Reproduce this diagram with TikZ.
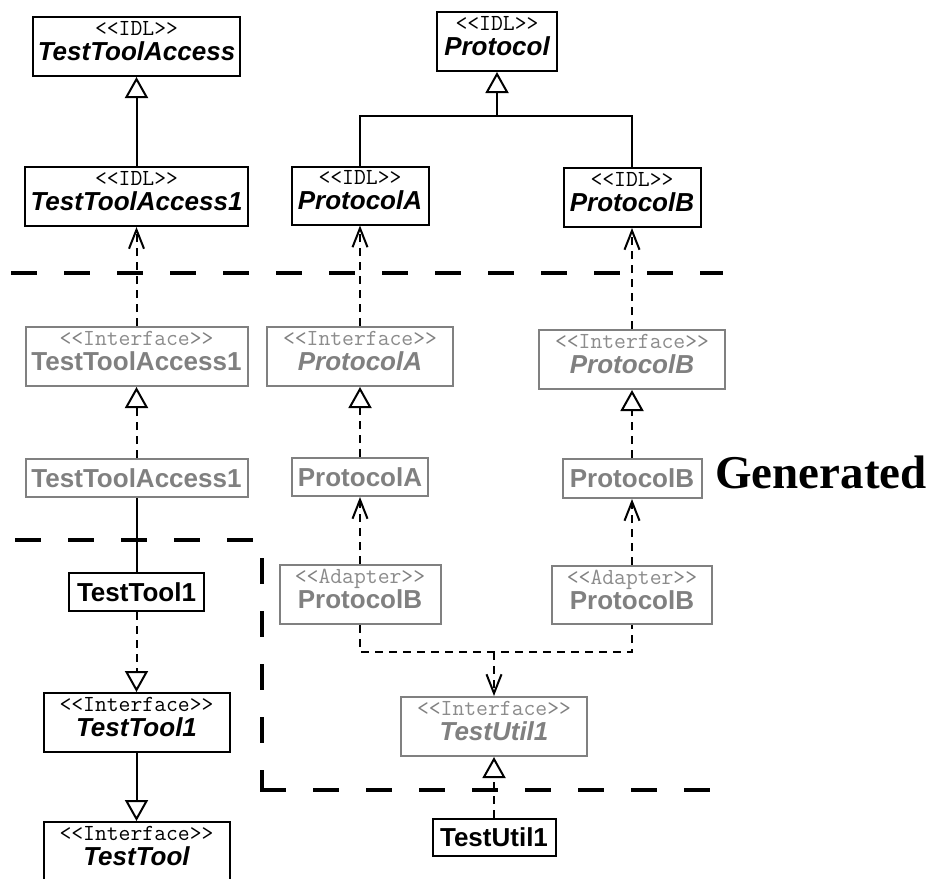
\documentclass[tikz,border=0pt]{standalone}
\usepackage{fontspec}
\setmainfont{Liberation Serif}
\setsansfont{Liberation Sans}
\usetikzlibrary{arrows.meta}

\definecolor{gengray}{RGB}{128,128,128}
\definecolor{stgray}{RGB}{140,140,140}

% stereotype line (Latin Modern Mono) and class names
\newcommand{\stereo}[1]{{\fontsize{23}{25}\selectfont\ttfamily <\kern0pt<#1>\kern0pt>}}
\newcommand{\nm}[1]{{\sffamily\bfseries #1}}
\newcommand{\inm}[1]{{\sffamily\bfseries\itshape #1}}
\newcommand{\two}[2]{\stereo{#1}\\#2\rule[-11pt]{0pt}{11pt}}

\tikzset{
  box/.style={draw, line width=2pt, fill=white, inner sep=1pt, align=center,
    font=\fontsize{26}{25}\selectfont},
  blackbox/.style={box, draw=black, text=black},
  graybox/.style={box, draw=gengray, text=gengray},
  conn/.style={line width=2pt, draw=black},
  dconn/.style={conn, dash pattern=on 8pt off 6pt},
  tri/.style={-{Triangle[open, length=21pt, width=23pt, fill=white]}},
  vee/.style={-{Straight Barb[length=19pt, width=15pt]}},
  zone/.style={line width=4pt, dash pattern=on 26pt off 27pt, line join=miter},
}

\begin{document}
\begin{tikzpicture}[x=1pt, y=-1pt]
\useasboundingbox (0,0) rectangle (928,878);

% boundaries of the generated region
\draw[zone] (11,273) -- (723,273);
\draw[zone] (15,540) -- (262,540) -- (262,790);
\draw[zone] (260,790) -- (710,790);

% IDL level
\node[blackbox, minimum width=207pt, minimum height=59pt] (tta) at (136.5,46.5) {\two{IDL}{\inm{TestToolAccess}}};
\node[blackbox, minimum width=223pt, minimum height=59pt] (tta1) at (136.5,196.5) {\two{IDL}{\inm{TestToolAccess1}}};
\node[blackbox, minimum width=120pt, minimum height=59pt] (proto) at (497,41.5) {\two{IDL}{\inm{Protocol}}};
\node[blackbox, minimum width=137pt, minimum height=58pt] (pa) at (360,195.5) {\two{IDL}{\inm{ProtocolA}}};
\node[blackbox, minimum width=137pt, minimum height=59pt] (pb) at (632,197.5) {\two{IDL}{\inm{ProtocolB}}};

% generated interfaces
\node[graybox, minimum width=222pt, minimum height=59pt] (itta1) at (136.5,356.5) {\two{\textcolor{stgray}{Interface}}{\nm{TestToolAccess1}}};
\node[graybox, minimum width=186pt, minimum height=59pt] (ipa) at (360,356.5) {\two{\textcolor{stgray}{Interface}}{\inm{ProtocolA}}};
\node[graybox, minimum width=186pt, minimum height=59pt] (ipb) at (632,359.5) {\two{\textcolor{stgray}{Interface}}{\inm{ProtocolB}}};

% generated classes
\node[graybox, minimum width=222pt, minimum height=38pt] (gtta1) at (136.5,478) {\nm{TestToolAccess1}};
\node[graybox, minimum width=136pt, minimum height=38pt] (gpa) at (360,477) {\nm{ProtocolA}};
\node[graybox, minimum width=139pt, minimum height=39pt] (gpb) at (632,478.5) {\nm{ProtocolB}};
\node[font=\fontsize{47}{50}\selectfont\bfseries, anchor=base west, inner sep=0pt] (gen) at (715,488) {Generated};

% adapters and utility interface
\node[graybox, minimum width=161pt, minimum height=59pt] (adl) at (360,594.5) {\two{\textcolor{stgray}{Adapter}}{\nm{ProtocolB}}};
\node[graybox, minimum width=160pt, minimum height=58pt] (adr) at (632,595) {\two{\textcolor{stgray}{Adapter}}{\nm{ProtocolB}}};
\node[graybox, minimum width=186pt, minimum height=59pt] (itu1) at (494,726.5) {\two{\textcolor{stgray}{Interface}}{\inm{TestUtil1}}};

% hand-written parts
\node[blackbox, minimum width=135pt, minimum height=38pt] (tt1) at (136.5,592) {\nm{TestTool1}};
\node[blackbox, minimum width=186pt, minimum height=59pt] (itt1) at (136.5,722.5) {\two{Interface}{\inm{TestTool1}}};
\node[blackbox, minimum width=186pt, minimum height=59pt] (itt) at (136.5,851.5) {\two{Interface}{\inm{TestTool}}};
\node[blackbox, minimum width=123pt, minimum height=37pt] (tu1) at (494,837.5) {\nm{TestUtil1}};

% inheritance among the IDL types
\draw[conn, tri] (tta1.north) -- (tta.south);
\coordinate (pj) at (497,116);
\draw[conn] (pa.north) |- (pj) -| (pb.north);
\draw[conn, tri] (pj) -- (proto.south);

% mapping of generated interfaces onto IDL types
\draw[dconn, vee] (itta1.north) -- (tta1.south);
\draw[dconn, vee] (ipa.north) -- (pa.south);
\draw[dconn, vee] (ipb.north) -- (pb.south);

% realizations
\draw[dconn, tri] (gtta1.north) -- (itta1.south);
\draw[dconn, tri] (gpa.north) -- (ipa.south);
\draw[dconn, tri] (gpb.north) -- (ipb.south);

% adapters
\draw[dconn, vee] (adl.north) -- (gpa.south);
\draw[dconn, vee] (adr.north) -- (gpb.south);
\coordinate (am) at (494,652);
\draw[dconn] (adl.south) |- (am) -| (adr.south);
\draw[dconn, vee] (am) -- (itu1.north);

% tool side
\draw[conn] (gtta1.south) -- (tt1.north);
\draw[dconn, tri] (tt1.south) -- (itt1.north);
\draw[conn, tri] (itt1.south) -- (itt.north);
\draw[dconn, tri] (tu1.north) -- (itu1.south);
\end{tikzpicture}
\end{document}
